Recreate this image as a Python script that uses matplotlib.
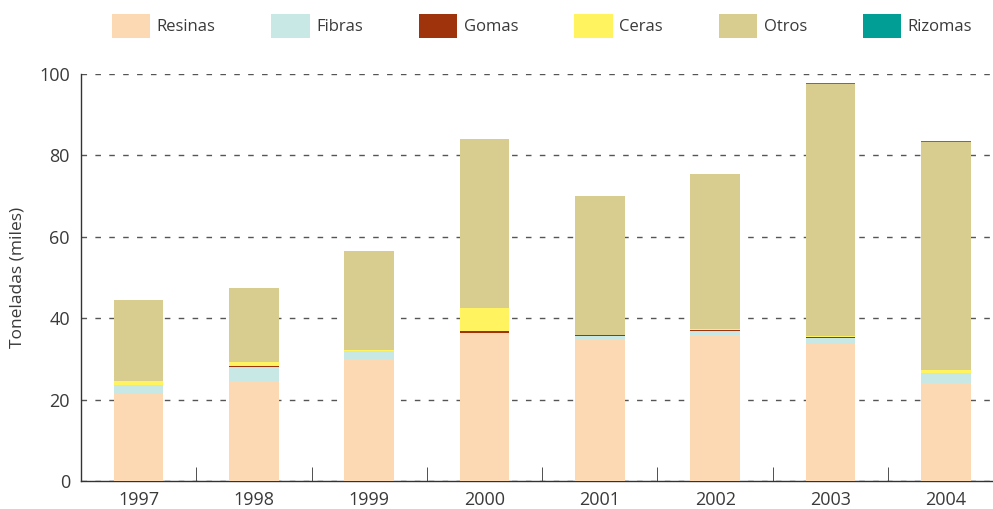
import numpy as np
import matplotlib
matplotlib.use('Agg')
import matplotlib.pyplot as plt
from matplotlib.patches import Patch

years = ['1997', '1998', '1999', '2000', '2001', '2002', '2003', '2004']

resinas = [21.4, 24.5, 30.0, 36.2, 34.9, 35.9, 33.7, 24.0]
fibras = [2.2, 3.5, 1.9, 0.2, 0.7, 0.9, 1.4, 2.5]
gomas = [0.0, 0.3, 0.0, 0.4, 0.3, 0.3, 0.3, 0.0]
ceras = [1.0, 0.9, 0.3, 5.7, 0.0, 0.2, 0.2, 0.8]
otros = [19.9, 18.2, 24.3, 41.5, 34.1, 38.1, 61.9, 56.0]
rizomas = [0.0, 0.0, 0.0, 0.0, 0.0, 0.0, 0.2, 0.2]

series = [
    ('Resinas', resinas, '#FCD9B2'),
    ('Fibras', fibras, '#C8E8E6'),
    ('Gomas', gomas, '#9E330C'),
    ('Ceras', ceras, '#FFF35F'),
    ('Otros', otros, '#D9CC8F'),
    ('Rizomas', rizomas, '#009E94'),
]

plt.rcParams['font.family'] = ['Open Sans', 'DejaVu Sans']
txt = '#3a3a3a'

fig = plt.figure(figsize=(9.93, 5.09), dpi=100)
ax = fig.add_axes([81 / 993, 28 / 509, 1 - 81 / 993, 407 / 509])

x = np.arange(len(years))
bottom = np.zeros(len(years))
for name, vals, col in series:
    ax.bar(x, vals, width=0.43, bottom=bottom, color=col, label=name, zorder=3)
    bottom += np.array(vals)

ax.set_ylim(0, 100)
ax.set_xlim(-0.5, 7.41)
ax.set_yticks([0, 20, 40, 60, 80, 100])
ax.yaxis.grid(True, linestyle=(0, (4, 6)), color='#555555', linewidth=1.0, zorder=0)

ax.set_xticks(x)
ax.set_xticklabels(years)
ax.set_xticks(np.arange(0.5, 7.5, 1), minor=True)
ax.tick_params(axis='x', which='major', length=0, pad=7, labelsize=13, labelcolor=txt)
ax.tick_params(axis='x', which='minor', direction='in', length=10, color='#333333')
ax.tick_params(axis='y', length=0, labelsize=13, labelcolor=txt, pad=8)

for s in ['top', 'right']:
    ax.spines[s].set_visible(False)
for s in ['left', 'bottom']:
    ax.spines[s].set_color('#333333')
    ax.spines[s].set_linewidth(1.0)

ax.set_ylabel('Toneladas (miles)', fontsize=12.5, color=txt, labelpad=10)

handles = [Patch(facecolor=c, edgecolor='none', label=n) for n, _, c in series]
fig.legend(handles=handles, loc='center', bbox_to_anchor=(542 / 993, 1 - 26 / 509), ncol=6,
           frameon=False, fontsize=12, handlelength=2.3, handleheight=1.9,
           handletextpad=0.4, columnspacing=3.35, labelcolor=txt)

fig.savefig('out.png', dpi=100)
